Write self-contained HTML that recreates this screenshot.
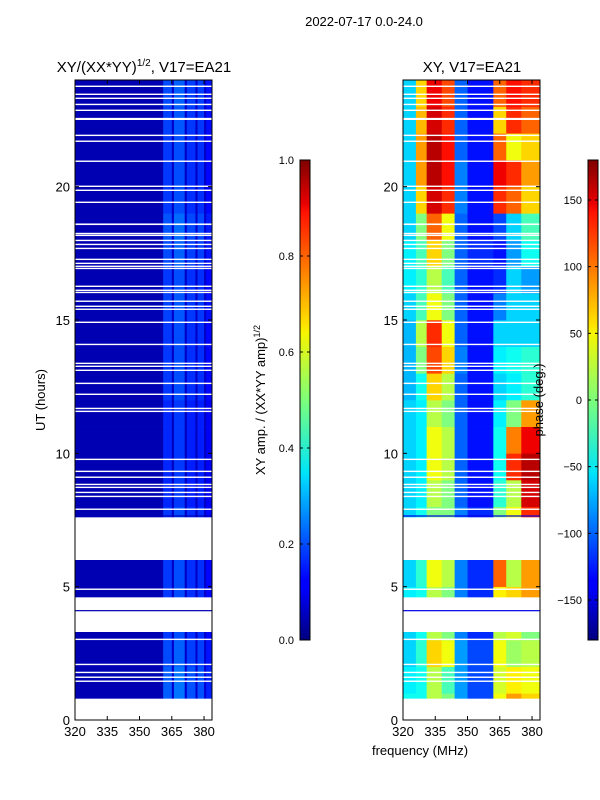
<!DOCTYPE html>
<html><head><meta charset="utf-8">
<style>
html,body{margin:0;padding:0;background:#fff;}
svg{display:block;font-family:"Liberation Sans",sans-serif;}
</style></head>
<body>
<svg id="fig" width="600" height="800" viewBox="0 0 600 800">
<defs>
<linearGradient id="jet" x1="0" y1="1" x2="0" y2="0">
<stop offset="0" stop-color="#00007f"/>
<stop offset="0.11" stop-color="#0000ff"/>
<stop offset="0.125" stop-color="#0000ff"/>
<stop offset="0.34" stop-color="#00dbff"/>
<stop offset="0.35" stop-color="#00e5f7"/>
<stop offset="0.5" stop-color="#7dff7a"/>
<stop offset="0.64" stop-color="#f7f500"/>
<stop offset="0.66" stop-color="#ffe000"/>
<stop offset="0.89" stop-color="#ff1300"/>
<stop offset="0.91" stop-color="#e80000"/>
<stop offset="1" stop-color="#7f0000"/>
</linearGradient>
</defs>
<g id="layer"></g>
<text x="364" y="26" font-size="13" text-anchor="middle">2022-07-17 0.0-24.0</text>
<text x="144" y="72" font-size="15" text-anchor="middle">XY/(XX*YY)<tspan font-size="10" dy="-6">1/2</tspan><tspan dy="6">, V17=EA21</tspan></text>
<text x="472" y="72" font-size="15" text-anchor="middle">XY, V17=EA21</text>
<text x="45" y="400" font-size="13" text-anchor="middle" transform="rotate(-90 45 400)">UT (hours)</text>
<text x="420" y="755" font-size="13" text-anchor="middle">frequency (MHz)</text>
<text x="265" y="400" font-size="13" text-anchor="middle" transform="rotate(-90 265 400)">XY amp. / (XX*YY amp)<tspan font-size="9" dy="-5">1/2</tspan></text>
<text x="543" y="400" font-size="13" text-anchor="middle" transform="rotate(-90 543 400)">phase (deg.)</text>
</svg>
<script>
// ---- data ----
const hours = [0,1,2,3,4,5,6,7,8,9,10,11,12,13,14,15,16,17,18,19,20,21,22,23];
const ampBandEdges = [320,361,365,366,371,372,376,377,380,381,383.7];
const ampBandValues = [0.05,0.18,0.07,0.20,0.07,0.17,0.07,0.17,0.07,0.13];
const ampHourFactor = [1.2,1.2,1.1,1.0,1.0,1.0,1.0,1.0,0.9,0.9,0.9,0.9,1.0,1.0,1.0,1.05,1.0,1.1,1.15,1.0,1.0,1.0,1.05,1.1];
const phaseBandEdges = [320,326,331,338,344,350,362,368,375,383.7];
const phaseGrid = [
 [-40,-40,20,0,-80,-110,40,80,60],
 [-50,-40,20,-20,-80,-110,30,50,40],
 [-60,-30,60,40,-80,-110,40,10,20],
 [-60,-40,20,0,-90,-120,20,30,0],
 [-50,-40,20,0,-90,-120,50,60,80],
 [-60,-30,40,20,-90,-120,100,20,80],
 [-60,-30,40,20,-90,-120,100,20,80],
 [-60,-40,0,0,-90,-120,0,40,120],
 [-60,-50,20,0,-100,-130,-30,20,150],
 [-60,-50,40,20,-100,-130,-40,120,160],
 [-60,-50,40,20,-100,-130,-40,90,140],
 [-60,-50,20,0,-100,-130,-50,0,80],
 [-70,-40,60,20,-100,-130,-60,-50,-30],
 [-70,0,110,60,-90,-130,-50,-40,-30],
 [-70,20,120,40,-100,-130,-60,-60,-60],
 [-60,-20,40,0,-100,-130,-90,-60,-60],
 [-50,-30,20,-20,-100,-130,-120,-60,-80],
 [-50,-20,60,0,-100,-120,-130,-80,-40],
 [-60,0,100,40,-100,-130,-110,-60,-20],
 [-60,60,150,120,-90,-130,120,100,60],
 [-60,80,160,130,-90,-130,140,120,80],
 [-60,80,160,130,-100,-130,100,40,60],
 [-60,70,150,120,-100,-130,60,120,100],
 [-60,60,140,110,-100,-130,100,130,120]
];
const gaps = [[0,0.8],[3.3,4.6],[6.0,7.6],
 [1.43,1.48],[1.58,1.63],[1.76,1.81],[2.06,2.11],[3.0,3.05],[4.88,4.93],[7.88,7.93],
 [8.36,8.41],[8.51,8.56],[8.7,8.75],[8.81,8.86],[9.08,9.13],[9.3,9.35],[9.75,9.8],
 [11.55,11.6],[11.66,11.71],[12.19,12.24],[12.6,12.65],[13.09,13.14],[13.24,13.29],[13.35,13.4],
 [14.06,14.11],[14.89,14.94],[15.38,15.43],[15.49,15.54],[15.68,15.73],[16.01,16.06],[16.09,16.14],
 [16.24,16.29],[16.91,16.96],[16.99,17.04],[17.1,17.15],[17.25,17.3],[17.66,17.71],[17.81,17.86],
 [17.96,18.01],[18.15,18.2],[18.22,18.27],[18.56,18.62],[19.39,19.44],[19.84,19.89],[19.99,20.04],
 [20.93,20.98],[21.68,21.73],[21.9,21.95],[22.5,22.58],[22.84,22.89],[23.06,23.11],[23.29,23.34],[23.44,23.49],[23.74,23.79]];
const blueLines = [7.65,4.1];
const xTicks = [320,335,350,365,380];
const yTicks = [0,5,10,15,20];
const ampTicks = [0.0,0.2,0.4,0.6,0.8,1.0];
const phaseTicks = [-150,-100,-50,0,50,100,150];

// ---- helpers ----
const NS = "http://www.w3.org/2000/svg";
const layer = document.getElementById('layer');
const T0 = 80, B0 = 720, HMAX = 24, FMIN = 320, FMAX = 383.7;
function yScale(h){ return B0 - (h/HMAX)*(B0-T0); }
function xScaleFor(left,right){ return f => left + (f-FMIN)/(FMAX-FMIN)*(right-left); }
function jet(v){
  v = Math.max(0,Math.min(1,v));
  const r = Math.max(0,Math.min(1,1.5-Math.abs(4*v-3)));
  const g = Math.max(0,Math.min(1,1.5-Math.abs(4*v-2)));
  const b = Math.max(0,Math.min(1,1.5-Math.abs(4*v-1)));
  return `rgb(${Math.round(r*255)},${Math.round(g*255)},${Math.round(b*255)})`;
}
function mk(tag, attrs, parent){
  const e = document.createElementNS(NS, tag);
  for (const k in attrs) e.setAttribute(k, attrs[k]);
  (parent||layer).appendChild(e);
  return e;
}
function txt(x,y,s,anchor,parent){
  const t = mk('text',{x:x,y:y,'font-size':13,'text-anchor':anchor},parent);
  t.textContent = s;
  return t;
}

function drawPanel(left,right,name,valueFn,edges,blueVal){
  const xs = xScaleFor(left,right);
  const g = mk('g',{});
  
  
  hours.forEach((h,hi)=>{
    for (let b=0;b<edges.length-1;b++){
      const x0 = xs(edges[b]), x1 = xs(edges[b+1]);
      const y0 = yScale(h+1), y1 = yScale(h);
      const r = mk('rect',{x:x0,y:y0,width:x1-x0+0.3,height:y1-y0+0.3,fill:jet(valueFn(hi,b))},g);
      
      
    }
  });
  gaps.forEach(gp=>{
    const r = mk('rect',{x:left,y:yScale(gp[1]),width:right-left,height:Math.max(1.4,yScale(gp[0])-yScale(gp[1])),fill:'#fff'},g);
    
    
  });
  blueLines.forEach(h=>{
    const r = mk('rect',{x:left,y:yScale(h)-0.6,width:right-left,height:1.2,fill:jet(blueVal)},g);
    
    
  });
  const fr = mk('rect',{x:left,y:T0,width:right-left,height:B0-T0,fill:'none',stroke:'#000','stroke-width':1},g);
  
  
  xTicks.forEach(t=>{
    const x = xs(t);
    mk('line',{x1:x,x2:x,y1:B0,y2:B0-4,stroke:'#000'},g);
    mk('line',{x1:x,x2:x,y1:T0,y2:T0+4,stroke:'#000'},g);
    const l = txt(x,B0+16,String(t),'middle',g);
    
    
  });
  yTicks.forEach(t=>{
    const y = yScale(t);
    mk('line',{x1:left,x2:left+4,y1:y,y2:y,stroke:'#000'},g);
    mk('line',{x1:right,x2:right-4,y1:y,y2:y,stroke:'#000'},g);
    const l = txt(left-5,y+5,String(t),'end',g);
    
    
  });
}

drawPanel(75,212,'amplitude-heatmap',(hi,b)=> b===0 ? ampBandValues[0] : ampBandValues[b]*ampHourFactor[hi], ampBandEdges, 0.05);
drawPanel(403,540,'phase-heatmap',(hi,b)=> (phaseGrid[hi][b]+180)/360, phaseBandEdges, 0.1);

function drawColorbar(x,name,ticks,vmin,vmax,fmt){
  const top=160,bot=640,w=10;
  const g = mk('g',{});
  
  
  mk('rect',{x:x,y:top,width:w,height:bot-top,fill:'url(#jet)',stroke:'#000','stroke-width':1},g);
  ticks.forEach(t=>{
    const y = bot - (t-vmin)/(vmax-vmin)*(bot-top);
    mk('line',{x1:x,x2:x+3,y1:y,y2:y,stroke:'#000'},g);
    mk('line',{x1:x+w,x2:x+w-3,y1:y,y2:y,stroke:'#000'},g);
    const l = txt(x-6,y+4,fmt(t),'end',g);
    l.setAttribute('font-size','11');
    
    
  });
}
drawColorbar(300,'amp-colorbar',ampTicks,0,1,t=>t.toFixed(1));
drawColorbar(588,'phase-colorbar',phaseTicks,-180,180,t=>t<0?'\u2212'+(-t):String(t));
</script>
</body></html>
